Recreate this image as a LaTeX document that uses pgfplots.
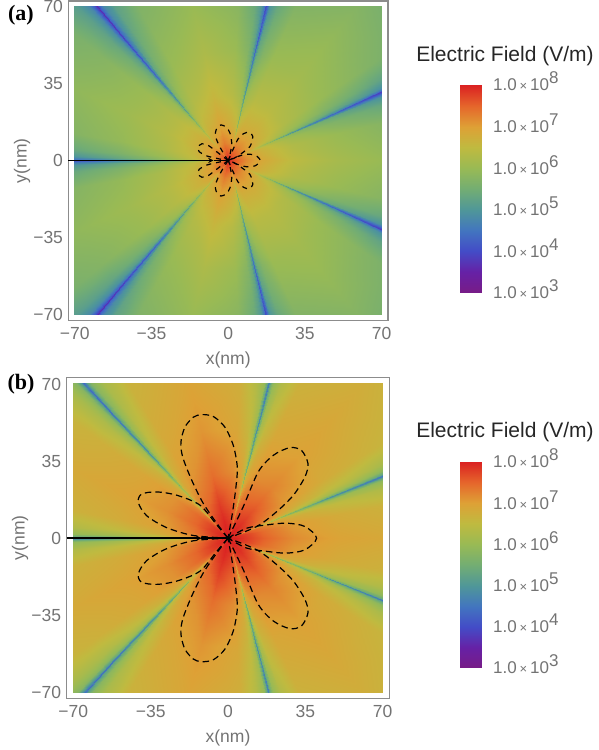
\documentclass[border=0pt]{standalone}
\usepackage{pgfplots}
\usepackage{pgfplotstable}
\usepackage{fontspec}
\pgfplotsset{compat=1.18}
\setmainfont{Liberation Sans}
\newfontfamily\serifb{Liberation Serif}
\pgfplotstableread{
t r v
0 0 8
0 3 7.6
0 8 7.2
0 16 6.85
0 30 6.45
0 50 6.17
0 75 5.95
0 100 5.75
14 0 8
14 3 7.57
14 8 7.13
14 16 6.72
14 30 6.3
14 50 6
14 75 5.72
14 100 5.48
20 0 8
20 3 7.52
20 8 7.05
20 16 6.62
20 30 6.12
20 50 5.7
20 75 5.32
20 100 5.05
22.5 0 8
22.5 3 7.5
22.5 8 6.95
22.5 16 6.47
22.5 30 5.92
22.5 50 5.4
22.5 75 4.92
22.5 100 4.65
23.5 0 8
23.5 3 7.4
23.5 8 6.85
23.5 16 6.22
23.5 30 5.57
23.5 50 4.95
23.5 75 4.42
23.5 100 4.1
24 0 8
24 3 7.3
24 8 6.6
24 16 5.82
24 30 5.02
24 50 4.35
24 75 3.82
24 100 3.4
24.5 0 8
24.5 3 7.4
24.5 8 6.85
24.5 16 6.22
24.5 30 5.57
24.5 50 4.95
24.5 75 4.42
24.5 100 4.1
25.5 0 8
25.5 3 7.5
25.5 8 6.95
25.5 16 6.47
25.5 30 5.92
25.5 50 5.4
25.5 75 4.92
25.5 100 4.65
28 0 8
28 3 7.52
28 8 7.05
28 16 6.62
28 30 6.12
28 50 5.7
28 75 5.32
28 100 5.05
34 0 8
34 3 7.57
34 8 7.13
34 16 6.72
34 30 6.3
34 50 6
34 75 5.72
34 100 5.48
50 0 8
50 3 7.6
50 8 7.2
50 16 6.8
50 30 6.4
50 50 6.12
50 75 5.9
50 100 5.65
66.3 0 8
66.3 3 7.62
66.3 8 7.18
66.3 16 6.77
66.3 30 6.38
66.3 50 6.03
66.3 75 5.73
66.3 100 5.5
72.3 0 8
72.3 3 7.57
72.3 8 7.1
72.3 16 6.67
72.3 30 6.2
72.3 50 5.73
72.3 75 5.33
72.3 100 5.07
74.8 0 8
74.8 3 7.55
74.8 8 7
74.8 16 6.52
74.8 30 6
74.8 50 5.43
74.8 75 4.93
74.8 100 4.67
75.8 0 8
75.8 3 7.45
75.8 8 6.9
75.8 16 6.27
75.8 30 5.65
75.8 50 4.98
75.8 75 4.43
75.8 100 4.12
76.3 0 8
76.3 3 7.35
76.3 8 6.65
76.3 16 5.87
76.3 30 5.1
76.3 50 4.38
76.3 75 3.83
76.3 100 3.42
76.8 0 8
76.8 3 7.45
76.8 8 6.9
76.8 16 6.27
76.8 30 5.65
76.8 50 4.98
76.8 75 4.43
76.8 100 4.12
77.8 0 8
77.8 3 7.55
77.8 8 7
77.8 16 6.52
77.8 30 6
77.8 50 5.43
77.8 75 4.93
77.8 100 4.67
80.3 0 8
80.3 3 7.57
80.3 8 7.1
80.3 16 6.67
80.3 30 6.2
80.3 50 5.73
80.3 75 5.33
80.3 100 5.07
86.3 0 8
86.3 3 7.62
86.3 8 7.18
86.3 16 6.77
86.3 30 6.38
86.3 50 6.03
86.3 75 5.73
86.3 100 5.5
103 0 8
103 3 7.7
103 8 7.3
103 16 6.95
103 30 6.6
103 50 6.25
103 75 5.97
103 100 5.8
120.5 0 8
120.5 3 7.57
120.5 8 7.1
120.5 16 6.72
120.5 30 6.35
120.5 50 6.01
120.5 75 5.73
120.5 100 5.53
126.5 0 8
126.5 3 7.52
126.5 8 7.02
126.5 16 6.62
126.5 30 6.17
126.5 50 5.71
126.5 75 5.33
126.5 100 5.1
129 0 8
129 3 7.5
129 8 6.92
129 16 6.47
129 30 5.97
129 50 5.41
129 75 4.93
129 100 4.7
130 0 8
130 3 7.4
130 8 6.82
130 16 6.22
130 30 5.62
130 50 4.96
130 75 4.43
130 100 4.15
130.5 0 8
130.5 3 7.3
130.5 8 6.57
130.5 16 5.82
130.5 30 5.07
130.5 50 4.36
130.5 75 3.83
130.5 100 3.45
131 0 8
131 3 7.4
131 8 6.82
131 16 6.22
131 30 5.62
131 50 4.96
131 75 4.43
131 100 4.15
132 0 8
132 3 7.5
132 8 6.92
132 16 6.47
132 30 5.97
132 50 5.41
132 75 4.93
132 100 4.7
134.5 0 8
134.5 3 7.52
134.5 8 7.02
134.5 16 6.62
134.5 30 6.17
134.5 50 5.71
134.5 75 5.33
134.5 100 5.1
140.5 0 8
140.5 3 7.57
140.5 8 7.1
140.5 16 6.72
140.5 30 6.35
140.5 50 6.01
140.5 75 5.73
140.5 100 5.53
155 0 8
155 3 7.5
155 8 7.05
155 16 6.7
155 30 6.35
155 50 6.08
155 75 5.9
155 100 5.7
170 0 8
170 3 7.47
170 8 6.98
170 16 6.6
170 30 6.23
170 50 5.93
170 75 5.7
170 100 5.48
176 0 8
176 3 7.42
176 8 6.9
176 16 6.5
176 30 6.05
176 50 5.63
176 75 5.3
176 100 5.05
178.5 0 8
178.5 3 7.4
178.5 8 6.8
178.5 16 6.35
178.5 30 5.85
178.5 50 5.33
178.5 75 4.9
178.5 100 4.65
179.5 0 8
179.5 3 7.3
179.5 8 6.7
179.5 16 6.1
179.5 30 5.5
179.5 50 4.88
179.5 75 4.4
179.5 100 4.1
180 0 8
180 3 7.2
180 8 6.45
180 16 5.7
180 30 4.95
180 50 4.28
180 75 3.8
180 100 3.4
}\tabA
\pgfplotstableread{
t r v
0 0 8
0 3 8
0 8 7.82
0 16 7.55
0 30 7.18
0 50 6.95
0 75 6.85
0 100 6.75
12 0 8
12 3 7.97
12 8 7.78
12 16 7.45
12 30 7.05
12 50 6.81
12 75 6.67
12 100 6.52
18 0 8
18 3 7.92
18 8 7.66
18 16 7.3
18 30 6.85
18 50 6.51
18 75 6.25
18 100 6.07
20.5 0 8
20.5 3 7.88
20.5 8 7.56
20.5 16 7.15
20.5 30 6.6
20.5 50 6.16
20.5 75 5.85
20.5 100 5.67
21.5 0 8
21.5 3 7.8
21.5 8 7.36
21.5 16 6.8
21.5 30 6.1
21.5 50 5.56
21.5 75 5.25
21.5 100 5.02
22 0 8
22 3 7.7
22 8 7.06
22 16 6.3
22 30 5.5
22 50 4.86
22 75 4.45
22 100 4.22
22.5 0 8
22.5 3 7.8
22.5 8 7.36
22.5 16 6.8
22.5 30 6.1
22.5 50 5.56
22.5 75 5.25
22.5 100 5.02
23.5 0 8
23.5 3 7.88
23.5 8 7.56
23.5 16 7.15
23.5 30 6.6
23.5 50 6.16
23.5 75 5.85
23.5 100 5.67
26 0 8
26 3 7.92
26 8 7.66
26 16 7.3
26 30 6.85
26 50 6.51
26 75 6.25
26 100 6.07
32 0 8
32 3 7.97
32 8 7.78
32 16 7.45
32 30 7.05
32 50 6.81
32 75 6.67
32 100 6.52
49 0 8
49 3 8
49 8 7.9
49 16 7.65
49 30 7.25
49 50 6.98
49 75 6.85
49 100 6.72
65.4 0 8
65.4 3 7.97
65.4 8 7.84
65.4 16 7.57
65.4 30 7.17
65.4 50 6.88
65.4 75 6.7
65.4 100 6.56
71.4 0 8
71.4 3 7.92
71.4 8 7.72
71.4 16 7.42
71.4 30 6.97
71.4 50 6.58
71.4 75 6.28
71.4 100 6.11
73.9 0 8
73.9 3 7.88
73.9 8 7.62
73.9 16 7.27
73.9 30 6.72
73.9 50 6.23
73.9 75 5.88
73.9 100 5.71
74.9 0 8
74.9 3 7.8
74.9 8 7.42
74.9 16 6.92
74.9 30 6.22
74.9 50 5.63
74.9 75 5.28
74.9 100 5.06
75.4 0 8
75.4 3 7.7
75.4 8 7.12
75.4 16 6.42
75.4 30 5.62
75.4 50 4.93
75.4 75 4.48
75.4 100 4.26
75.9 0 8
75.9 3 7.8
75.9 8 7.42
75.9 16 6.92
75.9 30 6.22
75.9 50 5.63
75.9 75 5.28
75.9 100 5.06
76.9 0 8
76.9 3 7.88
76.9 8 7.62
76.9 16 7.27
76.9 30 6.72
76.9 50 6.23
76.9 75 5.88
76.9 100 5.71
79.4 0 8
79.4 3 7.92
79.4 8 7.72
79.4 16 7.42
79.4 30 6.97
79.4 50 6.58
79.4 75 6.28
79.4 100 6.11
85.4 0 8
85.4 3 7.97
85.4 8 7.84
85.4 16 7.57
85.4 30 7.17
85.4 50 6.88
85.4 75 6.7
85.4 100 6.56
104 0 8
104 3 8
104 8 7.95
104 16 7.8
104 30 7.42
104 50 7.1
104 75 6.92
104 100 6.8
122.8 0 8
122.8 3 7.94
122.8 8 7.8
122.8 16 7.5
122.8 30 7.12
122.8 50 6.87
122.8 75 6.7
122.8 100 6.58
128.8 0 8
128.8 3 7.89
128.8 8 7.68
128.8 16 7.35
128.8 30 6.92
128.8 50 6.57
128.8 75 6.28
128.8 100 6.13
131.3 0 8
131.3 3 7.85
131.3 8 7.58
131.3 16 7.2
131.3 30 6.67
131.3 50 6.22
131.3 75 5.88
131.3 100 5.73
132.3 0 8
132.3 3 7.77
132.3 8 7.38
132.3 16 6.85
132.3 30 6.17
132.3 50 5.62
132.3 75 5.28
132.3 100 5.08
132.8 0 8
132.8 3 7.67
132.8 8 7.08
132.8 16 6.35
132.8 30 5.57
132.8 50 4.92
132.8 75 4.48
132.8 100 4.28
133.3 0 8
133.3 3 7.77
133.3 8 7.38
133.3 16 6.85
133.3 30 6.17
133.3 50 5.62
133.3 75 5.28
133.3 100 5.08
134.3 0 8
134.3 3 7.85
134.3 8 7.58
134.3 16 7.2
134.3 30 6.67
134.3 50 6.22
134.3 75 5.88
134.3 100 5.73
136.8 0 8
136.8 3 7.89
136.8 8 7.68
136.8 16 7.35
136.8 30 6.92
136.8 50 6.57
136.8 75 6.28
136.8 100 6.13
142.8 0 8
142.8 3 7.94
142.8 8 7.8
142.8 16 7.5
142.8 30 7.12
142.8 50 6.87
142.8 75 6.7
142.8 100 6.58
156 0 8
156 3 7.95
156 8 7.82
156 16 7.5
156 30 7.15
156 50 6.95
156 75 6.85
156 100 6.75
170 0 8
170 3 7.92
170 8 7.74
170 16 7.35
170 30 7
170 50 6.8
170 75 6.67
170 100 6.55
176 0 8
176 3 7.87
176 8 7.62
176 16 7.2
176 30 6.8
176 50 6.5
176 75 6.25
176 100 6.1
178.5 0 8
178.5 3 7.83
178.5 8 7.52
178.5 16 7.05
178.5 30 6.55
178.5 50 6.15
178.5 75 5.85
178.5 100 5.7
179.5 0 8
179.5 3 7.75
179.5 8 7.32
179.5 16 6.7
179.5 30 6.05
179.5 50 5.55
179.5 75 5.25
179.5 100 5.05
180 0 8
180 3 7.65
180 8 7.02
180 16 6.2
180 30 5.45
180 50 4.85
180 75 4.45
180 100 4.25
}\tabB
% lobes, panel a
\pgfplotstableread{
x y
0 0
-2 3
-4.2 7
-5.8 11
-5.5 14
-3.3 16.2
-0.8 15
0.8 12.5
1.6 8
1 3.5
0 0
}\laA
\pgfplotstableread{
x y
0 0
2.2 5
4.5 9.8
7 12.2
9.5 12.8
11.2 11
10 6.5
6.5 3.5
3 1.2
0 0
}\laB
\pgfplotstableread{
x y
0 0
3.5 1.5
8 2.8
12.3 2.4
14.6 0
12.3 -2.4
8 -2.8
3.5 -1.5
0 0
}\laC
\pgfplotstableread{
x y
0 0
-4 3
-9 6.8
-12 7.6
-13.8 6
-13.2 4
-9.5 2
-4 0.7
0 0
}\laD
% lobes, panel b
\pgfplotstableread{
x y
0 0
-5.1 6.8
-11.2 15.8
-16.4 26.3
-20.5 36.8
-21.3 43.6
-19.5 50.4
-15.7 54.9
-11.9 56.1
-6.6 55.2
-1.4 50.4
2.4 42.1
4.2 32.3
3.6 23.3
2 11.3
0 0
}\lbA
\pgfplotstableread{
x y
0 0
6.9 14.3
13.7 30.1
20.5 37.6
28 41.1
33.3 39.8
36.2 33.8
34.8 27.8
29.6 19.5
22 12
13 5.3
0 0
}\lbB
\pgfplotstableread{
x y
0 0
8.4 4.5
17.5 6
26.5 6.8
34.8 5.3
40.1 0
34.8 -5.3
26.5 -6.8
17.5 -6
8.4 -4.5
0 0
}\lbC
\pgfplotstableread{
x y
0 0
-5.1 6
-12.7 15
-23.2 19.5
-32.3 21
-39.1 20
-40.6 16.2
-36.8 10.2
-27.8 4.8
-15.7 1.2
0 0
}\lbD
\pgfplotstableread{
x y
0 3
1 3
0 4
1 4
0 5
1 5
0 6
1 6
0 7
1 7
0 8
1 8
}\tabC
\pgfplotsset{
  colormap={rain}{rgb=(0.471,0.109,0.527) rgb=(0.40,0.13,0.65) rgb=(0.263,0.30,0.78)
    rgb=(0.26,0.46,0.75) rgb=(0.31,0.59,0.60) rgb=(0.45,0.68,0.45) rgb=(0.60,0.73,0.33)
    rgb=(0.75,0.73,0.25) rgb=(0.87,0.63,0.21) rgb=(0.90,0.40,0.17) rgb=(0.857,0.131,0.132)},
  heat/.style={scale only axis, hide axis, anchor=south west, xmin=-70, xmax=70, ymin=-70, ymax=70,
    colormap name=rain, point meta min=3, point meta max=8},
  field/.style={surf, shader=interp, mesh/rows=8, mesh/cols=36, mesh/ordering=y varies, data cs=polar, point meta=\thisrow{v}},
  frame/.style={scale only axis, anchor=south west, axis line style={draw=black!45, line width=1.2pt},
    tick style={draw=none}, major tick length=0pt,
    xtick={-70,-35,0,35,70}, ytick={-70,-35,0,35,70},
    xticklabels={−70,−35,0,35,70}, yticklabels={−70,−35,0,35,70},
    tick label style={font=\fontsize{17.5}{20}\selectfont, text=black!55},
    xticklabel style={yshift=-3pt}, yticklabel style={xshift=-2pt},
    label style={font=\fontsize{17.5}{20}\selectfont, text=black!55},
    x label style={at={(axis description cs:0.5,0)},anchor=center,yshift=-39.5pt},
    y label style={at={(axis description cs:0,0.5)},anchor=center,yshift=46.5pt},
    xlabel={x(nm)}, ylabel={y(nm)}, clip=false},
  bar/.style={scale only axis, anchor=south west, width=21pt, xmin=0, xmax=1, ymin=3, ymax=8,
    colormap name=rain, point meta min=3, point meta max=8, axis line style={draw=none},
    xtick=\empty, ytick={3,4,5,6,7,8}, major tick length=0pt, yticklabel pos=right,
    yticklabels={\ee{3},\ee{4},\ee{5},\ee{6},\ee{7},\ee{8}},
    tick label style={font=\fontsize{17}{19}\selectfont, text=black!55, inner sep=0pt, xshift=12pt}},
  lobe/.style={black, line width=1.2pt, smooth, no marks}
}
\newcommand\ee[1]{1.0\,{\fontsize{13}{15}\selectfont ×}\,10\smash{\raisebox{7pt}{#1}}}
\newcommand\lobes[2]{%
  \addplot[lobe, dash pattern=#2] table[x=x,y=y]{#1};
  \addplot[lobe, dash pattern=#2] table[x=x,y expr=-\thisrow{y}]{#1};}
\begin{document}
\begin{tikzpicture}
\path[use as bounding box] (0,0) rectangle (598pt,750pt);
% panel a
\begin{axis}[heat, at={(74.7pt,435.7pt)}, width=307pt, height=307.6pt]
\addplot[field] table[x=t,y=r]{\tabA};
\addplot[field] table[x expr=-\thisrow{t},y=r]{\tabA};
\end{axis}
\begin{axis}[frame, at={(68.5pt,429.3pt)}, width=319.5pt, height=319.7pt,
  xmin=-72.83, xmax=72.87, ymin=-72.91, ymax=72.59]
\addplot[black, line width=1.4pt, no marks, -stealth] coordinates {(-72.83,0) (-6.7,0)};
\addplot[black, line width=1.4pt, no marks] coordinates {(-6.7,0) (0,0)};
\lobes{\laA}{on 5pt off 5pt}\lobes{\laB}{on 5pt off 5pt}\lobes{\laD}{on 5pt off 5pt}
\addplot[lobe, dash pattern=on 5pt off 5pt] table[x=x,y=y]{\laC};
\end{axis}
\begin{axis}[bar, at={(460pt,457pt)}, height=208pt]
\addplot[surf, shader=interp, mesh/rows=6, mesh/cols=2, point meta=y] table[x=x,y=y]{\tabC};
\end{axis}
\node[font=\fontsize{21}{24}\selectfont, text=black!85] at (505pt,694pt) {Electric Field (V/m)};
\node[font=\serifb\bfseries\fontsize{22}{24}\selectfont] at (21pt,735pt) {(a)};
% panel b
\begin{axis}[heat, at={(73.3pt,57.7pt)}, width=309.4pt, height=308.3pt]
\addplot[field] table[x=t,y=r]{\tabB};
\addplot[field] table[x expr=-\thisrow{t},y=r]{\tabB};
\end{axis}
\begin{axis}[frame, at={(66.7pt,51.7pt)}, width=322.6pt, height=321pt,
  xmin=-72.99, xmax=72.99, ymin=-72.72, ymax=73.04]
\addplot[black, line width=1.4pt, no marks, -stealth] coordinates {(-72.99,0) (-12,0)};
\addplot[black, line width=1.4pt, no marks] coordinates {(-12,0) (0,0)};
\lobes{\lbA}{on 6.5pt off 4pt}\lobes{\lbB}{on 6.5pt off 4pt}\lobes{\lbD}{on 6.5pt off 4pt}
\addplot[lobe, dash pattern=on 6.5pt off 4pt] table[x=x,y=y]{\lbC};
\end{axis}
\begin{axis}[bar, at={(460pt,82pt)}, height=206pt]
\addplot[surf, shader=interp, mesh/rows=6, mesh/cols=2, point meta=y] table[x=x,y=y]{\tabC};
\end{axis}
\node[font=\fontsize{21}{24}\selectfont, text=black!85] at (505pt,318pt) {Electric Field (V/m)};
\node[font=\serifb\bfseries\fontsize{22}{24}\selectfont] at (21pt,366pt) {(b)};
\end{tikzpicture}
\end{document}
